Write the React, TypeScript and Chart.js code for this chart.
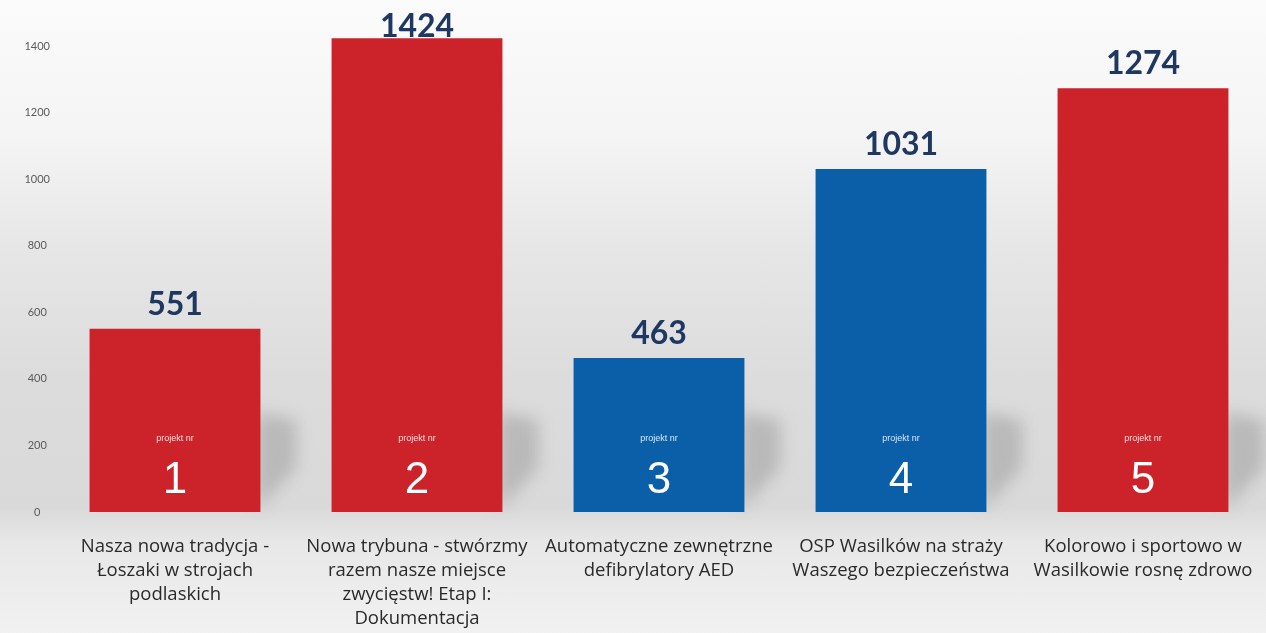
import React, { useEffect, useRef } from "react";
import { Chart, registerables } from "chart.js";

Chart.register(...registerables);

const categories: string[][] = [
  ["Nasza nowa tradycja -", "Łoszaki w strojach", "podlaskich"],
  ["Nowa trybuna - stwórzmy", "razem nasze miejsce", "zwycięstw! Etap I:", "Dokumentacja"],
  ["Automatyczne zewnętrzne", "defibrylatory AED"],
  ["OSP Wasilków na straży", "Waszego bezpieczeństwa"],
  ["Kolorowo i sportowo w", "Wasilkowie rosnę zdrowo"],
];
const votes: number[] = [551, 1424, 463, 1031, 1274];
const projectNumbers: string[] = ["1", "2", "3", "4", "5"];
const barColors: string[] = ["#cc2229", "#cc2229", "#0b5fa8", "#0b5fa8", "#cc2229"];

const labelsPlugin = {
  id: "barLabels",
  beforeDatasetsDraw(chart: any) {
    const ctx = chart.ctx;
    const meta = chart.getDatasetMeta(0);
    ctx.save();
    ctx.filter = "blur(8px)";
    meta.data.forEach((bar: any) => {
      const right = bar.x + bar.width / 2;
      const bottom = bar.base;
      const h = Math.min(bar.base - bar.y, 100);
      ctx.fillStyle = "rgba(70,70,70,0.22)";
      ctx.beginPath();
      ctx.moveTo(right - 4, bottom - h);
      ctx.lineTo(right + 36, bottom - h + 8);
      ctx.lineTo(right + 36, bottom - 45);
      ctx.lineTo(right - 4, bottom - 2);
      ctx.closePath();
      ctx.fill();
    });
    ctx.restore();
  },
  afterDatasetsDraw(chart: any) {
    const ctx = chart.ctx;
    const meta = chart.getDatasetMeta(0);
    ctx.save();
    meta.data.forEach((bar: any, i: number) => {
      const x = bar.x;
      ctx.textAlign = "center";
      ctx.fillStyle = "rgba(255,255,255,0.85)";
      ctx.font = "9px 'Liberation Sans', Arial, sans-serif";
      ctx.textBaseline = "middle";
      ctx.fillText("projekt nr", x, bar.base - 73);
      ctx.fillStyle = "#ffffff";
      ctx.font = "44px 'Liberation Sans', Arial, sans-serif";
      ctx.fillText(projectNumbers[i], x, bar.base - 31);
      ctx.fillStyle = "#1f3862";
      ctx.font = "bold 32px Lato, 'Noto Sans', sans-serif";
      ctx.textBaseline = "alphabetic";
      ctx.fillText(String(votes[i]), x, Math.max(bar.y - 14, 37));
    });
    ctx.restore();
  },
};

export default function App() {
  const canvasRef = useRef<HTMLCanvasElement | null>(null);

  useEffect(() => {
    if (!canvasRef.current) return;
    const chart = new Chart(canvasRef.current, {
      type: "bar",
      data: {
        labels: categories,
        datasets: [
          {
            data: votes,
            backgroundColor: barColors,
            borderWidth: 0,
            barPercentage: 0.706,
            categoryPercentage: 1,
          },
        ],
      },
      options: {
        animation: false,
        responsive: true,
        maintainAspectRatio: false,
        layout: { padding: { top: 13, right: 2, bottom: 0, left: 0 } },
        plugins: {
          legend: { display: false },
          tooltip: { enabled: false },
        },
        scales: {
          x: {
            grid: { display: false },
            border: { display: false },
            ticks: {
              color: "#2a2a2a",
              font: { family: "'Open Sans', 'Noto Sans', sans-serif", size: 18.5, lineHeight: 24 / 18.5 },
              padding: 15,
              maxRotation: 0,
              autoSkip: false,
            },
            afterFit(scale: any) {
              scale.height = 121;
              scale.paddingLeft = 0;
              scale.paddingRight = 0;
            },
          },
          y: {
            min: 0,
            max: 1500,
            grid: { display: false, drawTicks: false },
            border: { display: false },
            ticks: {
              stepSize: 200,
              color: "#5a5a5a",
              crossAlign: "center",
              padding: 4,
              font: { family: "Lato, 'Noto Sans', sans-serif", size: 11 },
              callback: (v: any) => String(v),
            },
            afterBuildTicks(scale: any) {
              scale.ticks = scale.ticks.filter((t: any) => t.value <= 1400);
            },
            afterFit(scale: any) {
              scale.width = 54;
            },
          },
        },
      },
      plugins: [labelsPlugin],
    });
    return () => chart.destroy();
  }, []);

  return (
    <div
      style={{
        position: "fixed",
        left: 0,
        top: 0,
        width: 1266,
        height: 633,
        background:
          "linear-gradient(to bottom, #fbfbfb 0%, #f4f4f4 22%, #e6e6e6 40%, #dcdcdc 60%, #d9d9d9 80%, #e8e8e8 86%, #f1f1f1 100%)",
      }}
    >
      <canvas ref={canvasRef} />
    </div>
  );
}
